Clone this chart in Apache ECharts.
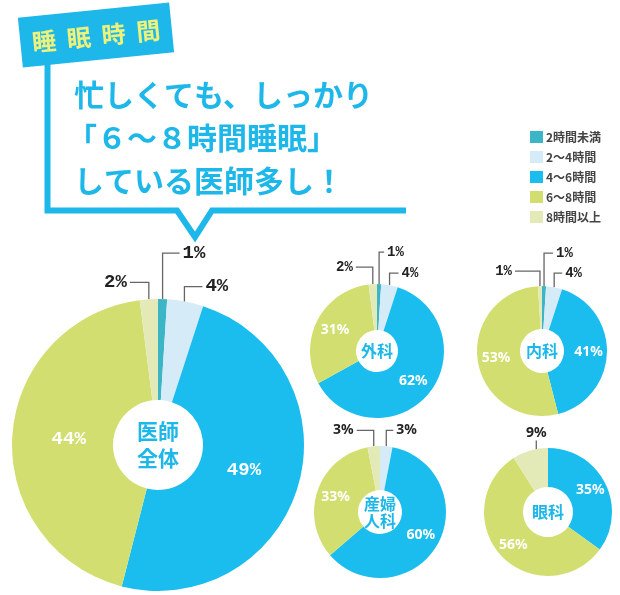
<!DOCTYPE html>
<html><head><meta charset="utf-8">
<script src="https://cdn.jsdelivr.net/npm/echarts@6/dist/echarts.min.js"></script>
<style>html,body{margin:0;padding:0;background:#fff}#c{width:620px;height:595px}</style>
</head><body><div id="c"></div>
<script>
// ---- data ----
const categories = ['2時間未満', '2～4時間', '4～6時間', '6～8時間', '8時間以上'];
const groups = ['医師\n全体', '外科', '内科', '産婦\n人科', '眼科'];
const valuesAll = [1, 4, 49, 44, 2];
const valuesSurgery = [1, 4, 62, 31, 2];
const valuesInternal = [1, 4, 41, 53, 1];
const valuesObgyn = [0, 3, 60, 33, 3];
const valuesEye = [0, 0, 35, 56, 9];
const seriesValues = [valuesAll, valuesSurgery, valuesInternal, valuesObgyn, valuesEye];
const headline = ['忙しくても、しっかり', '「６～８時間睡眠」', 'している医師多し！'];
const tagText = '睡  眠  時  間';

// ---- styles / layout ----
const colors = ['#3cb6c6', '#d5ebf8', '#1bbdee', '#d2df70', '#e3eab8'];
const BLUE = '#1db7e9';
const pies = [
  { center: [158, 445], radius: [45, 146], inShift: 9, inFont: 19, inFam: 'Liberation Mono', outFont: 19, outFam: 'Liberation Mono', cFont: 21, cLh: 27 },
  { center: [377, 351], radius: [21, 67], inShift: 0, inFont: 14, inFam: 'Noto Sans', outFont: 14, outFam: 'Liberation Mono', cFont: 16, cLh: 18 },
  { center: [542, 351], radius: [22, 65], inShift: 0, inFont: 14, inFam: 'Noto Sans', outFont: 14, outFam: 'Liberation Mono', cFont: 16, cLh: 18 },
  { center: [380, 512], radius: [22, 66], inShift: 0, inFont: 14, inFam: 'Noto Sans', outFont: 14, outFam: 'Noto Sans', cFont: 16, cLh: 17 },
  { center: [548, 512], radius: [25, 64], inShift: 0, inFont: 14, inFam: 'Noto Sans', outFont: 14, outFam: 'Noto Sans', cFont: 16, cLh: 18 }
];
// leader line config per series: dataIndex -> [rise, run, inset]
const leaders = [
  { 0: [46, 17, 0], 1: [15, 18, 5], 4: [17, -19, 0] },
  { 0: [32, 5, 0], 1: [12, 9, 0], 4: [17, -17, 0] },
  { 0: [33, 9, 0], 1: [14, 8, 0], 4: [15, -25, 0] },
  { 1: [16, 7, 0], 4: [16, -17, 0] },
  { 4: [10, 0, 22] }
];

const chart = echarts.init(document.getElementById('c'), null, { renderer: 'canvas' });

function makeLayout(si) {
  return function (p) {
    const cfg = leaders[si][p.dataIndex];
    const c = pies[si].center;
    if (!cfg || !p.labelLinePoints) {
      const sh = pies[si].inShift;
      if (!sh || !p.labelRect) return {};
      const r = p.labelRect;
      const lx = r.x + r.width / 2, ly = r.y + r.height / 2;
      const ddx = c[0] - lx, ddy = c[1] - ly;
      const dd = Math.hypot(ddx, ddy) || 1;
      return { x: lx + ddx / dd * sh, y: ly + ddy / dd * sh, align: 'center', verticalAlign: 'middle' };
    }
    const rise = cfg[0], run = cfg[1], inset = cfg[2];
    const p0 = p.labelLinePoints[0];
    const dx = c[0] - p0[0], dy = c[1] - p0[1];
    const d = Math.hypot(dx, dy) || 1;
    const s = [p0[0] + dx / d * inset, p0[1] + dy / d * inset];
    const top = [s[0], p0[1] - rise];
    const end = [s[0] + run, top[1]];
    return {
      x: end[0] + (run > 0 ? 3 : run < 0 ? -3 : 0),
      y: run === 0 ? top[1] - 1 : end[1],
      align: run > 0 ? 'left' : run < 0 ? 'right' : 'center',
      verticalAlign: run === 0 ? 'bottom' : 'middle',
      labelLinePoints: [s, top, end]
    };
  };
}

const series = seriesValues.map(function (vals, si) {
  const P = pies[si];
  return {
    type: 'pie',
    center: P.center,
    radius: P.radius,
    startAngle: 90,
    clockwise: true,
    avoidLabelOverlap: false,
    silent: true,
    animation: false,
    itemStyle: { borderWidth: 0 },
    labelLayout: makeLayout(si),
    data: vals.map(function (v, i) {
      const outside = v > 0 && v < 10;
      return {
        name: categories[i],
        value: v,
        itemStyle: { color: colors[i] },
        label: outside ? {
          show: true, position: 'outside', formatter: '{c}%',
          color: '#222', fontSize: P.outFont, fontWeight: 'bold', fontFamily: P.outFam
        } : {
          show: v > 0, position: 'inside', formatter: '{c}%',
          color: '#fff', fontSize: P.inFont, fontWeight: 'bold', fontFamily: P.inFam
        },
        labelLine: outside ? { show: true, length: 10, length2: 5, lineStyle: { color: '#666', width: 1.3 } } : { show: false }
      };
    })
  };
});

const graphic = [];
// speech bubble outline
graphic.push({
  type: 'polyline', z: 5,
  shape: { points: [[47.5, 58], [47.5, 210.5], [177, 210.5], [195, 237], [212, 210.5], [406, 210.5]] },
  style: { stroke: BLUE, lineWidth: 6, fill: null, lineJoin: 'miter' }
});
// tag box
graphic.push({
  type: 'group', x: 96, y: 35, rotation: 0.1, z: 10,
  children: [
    { type: 'rect', shape: { x: -76, y: -25, width: 152, height: 50 }, style: { fill: BLUE } },
    { type: 'text', x: 0, y: 1, style: { text: tagText, fill: '#eef27a', fontSize: 24, fontWeight: 'bold', fontFamily: 'Noto Sans CJK JP', textAlign: 'center', textVerticalAlign: 'middle', align: 'center', verticalAlign: 'middle' } }
  ]
});
// headline
headline.forEach(function (t, i) {
  graphic.push({
    type: 'text', x: i === 1 ? 67 : 74, y: 95 + i * 43, z: 10,
    style: { text: t, fill: BLUE, fontSize: 30, fontWeight: 'bold', fontFamily: 'Noto Sans CJK JP', textVerticalAlign: 'middle', verticalAlign: 'middle' }
  });
});
// center labels
groups.forEach(function (g, i) {
  const P = pies[i];
  graphic.push({
    type: 'text', x: P.center[0], y: P.center[1], z: 100,
    style: { text: g, fill: BLUE, fontSize: P.cFont, lineHeight: P.cLh, fontWeight: 'bold', fontFamily: 'Noto Sans CJK JP', textAlign: 'center', textVerticalAlign: 'middle', align: 'center', verticalAlign: 'middle' }
  });
});

chart.setOption({
  backgroundColor: '#fff',
  animation: false,
  legend: {
    orient: 'vertical', left: 525, top: 126, itemWidth: 13, itemHeight: 12, itemGap: 8,
    icon: 'rect', selectedMode: false, data: categories,
    textStyle: { color: '#444', fontSize: 12, fontWeight: 'bold', fontFamily: 'Noto Sans CJK JP', padding: [0, 0, 0, -2] }
  },
  series: series,
  graphic: graphic
});
</script></body></html>
